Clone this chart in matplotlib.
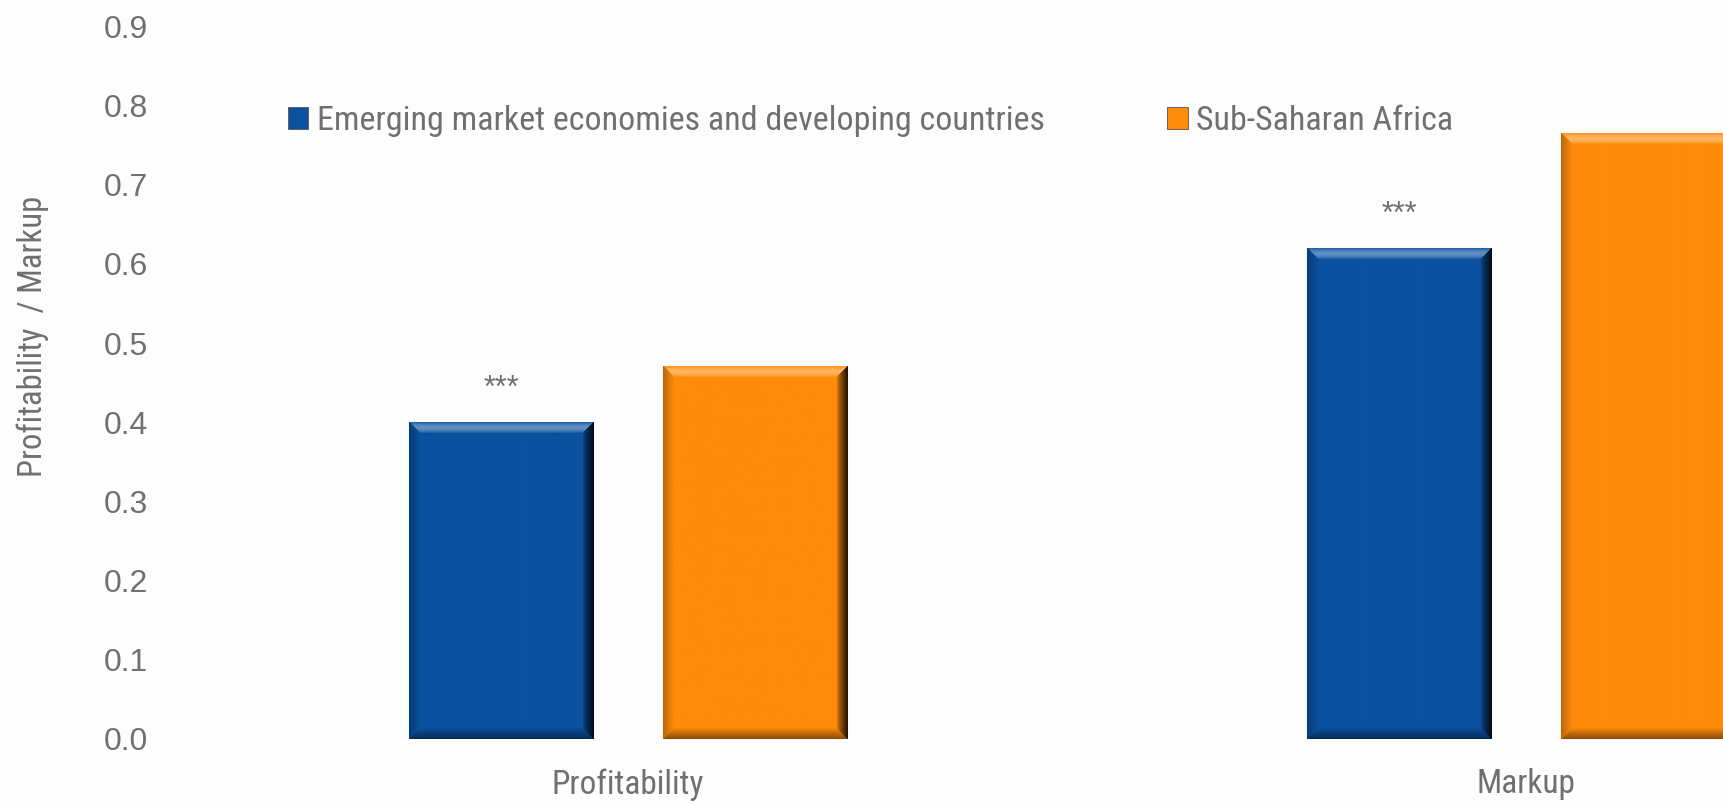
import numpy as np
import matplotlib.pyplot as plt
from matplotlib.colors import to_rgb
from matplotlib.patches import Patch

categories = ["Profitability", "Markup"]
series_names = ["Emerging market economies and developing countries", "Sub-Saharan Africa"]
emde_values = [0.40, 0.62]
ssa_values = [0.47, 0.765]
emde_stars = ["***", "***"]
series_colors = ["#0A51A0", "#FF8B0B"]

TEXT = "#707070"
NARROW = ["Roboto Condensed", "Liberation Sans", "DejaVu Sans"]
REGULAR = ["Liberation Sans", "DejaVu Sans"]


def bevel(ax, bar, color, w=11):
    """Paint a bevelled fill over a bar (light top, dark right/bottom)."""
    x0, y0 = bar.get_x(), bar.get_y()
    x1, y1 = x0 + bar.get_width(), y0 + bar.get_height()
    (px0, py0), (px1, py1) = ax.transData.transform([(x0, y0), (x1, y1)])
    W, H = int(round(px1 - px0)), int(round(py1 - py0))
    jj, ii = np.meshgrid(np.arange(W), np.arange(H))
    d = np.stack([jj, W - 1 - jj, ii, H - 1 - ii]).astype(float)
    side = d.argmin(0)
    t = np.clip(1 - d.min(0) / w, 0, 1)
    c = np.array(to_rgb(color))
    img = np.tile(c, (H, W, 1))
    white, black = np.ones(3), np.zeros(3)
    amt = {0: (black, 0.25 * t), 1: (black, 0.85 * t ** 0.7),
           2: (white, 0.30 * np.sin(np.pi * t) + 0.1 * t), 3: (black, 0.45 * t)}
    for s, (target, a) in amt.items():
        m = side == s
        a = a[..., None] * m[..., None]
        img = img * (1 - a) + target * a
    ax.imshow(img, extent=(x0, x1, y0, y1), aspect="auto", origin="upper",
              interpolation="bilinear", zorder=3)


fig = plt.figure(figsize=(17.24, 8.05), dpi=100, facecolor="#FDFDFD")
ax = fig.add_axes([0.1038, 0.0821, 1.0418, 0.8851])
ax.set_facecolor("#FDFDFD")

x = np.arange(len(categories))
width, offset = 0.205, 0.1414
bars_emde = ax.bar(x - offset, emde_values, width, color=series_colors[0],
                   edgecolor="#B0B0B0", linewidth=0.8, zorder=2)
bars_ssa = ax.bar(x + offset, ssa_values, width, color=series_colors[1],
                  edgecolor="#B0B0B0", linewidth=0.8, zorder=2)

ax.set_xlim(-0.5, 1.5)
ax.set_ylim(0, 0.9)

for bars, color in ((bars_emde, series_colors[0]), (bars_ssa, series_colors[1])):
    for b in bars:
        bevel(ax, b, color)
ax.set_xlim(-0.5, 1.5)
ax.set_ylim(0, 0.9)

for b, s in zip(bars_emde, emde_stars):
    ax.annotate(s, (b.get_x() + b.get_width() / 2, b.get_height()),
                xytext=(0, 24), textcoords="offset points", ha="center",
                va="center", fontsize=22, color=TEXT, family=REGULAR)

ax.set_yticks(np.arange(0, 0.91, 0.1))
ax.set_yticklabels([f"{v:.1f}" for v in np.arange(0, 0.91, 0.1)],
                   family=REGULAR, fontsize=23, color=TEXT)
ax.set_xticks(x)
ax.set_xticklabels(categories, family=NARROW, fontsize=24, color=TEXT)
ax.tick_params(axis="y", length=0, pad=22)
ax.tick_params(axis="x", length=0, pad=21)
for sp in ax.spines.values():
    sp.set_visible(False)

fig.text(0.019, 1 - 336 / 805, "Profitability  / Markup", rotation=90,
         ha="center", va="center", family=NARROW, fontsize=23.5, color=TEXT)

handles = [Patch(facecolor=c, edgecolor="#555555", linewidth=0.6) for c in series_colors]
fig.legend(handles, series_names, loc="center left",
           bbox_to_anchor=(288 / 1724, 1 - 121 / 805), ncol=2, frameon=False,
           borderpad=0, borderaxespad=0,
           handlelength=0.6, handleheight=0.6, handletextpad=0.25,
           columnspacing=3.6, prop={"family": NARROW, "size": 24.5},
           labelcolor=TEXT)

fig.savefig("out.png", dpi=100, facecolor=fig.get_facecolor())
